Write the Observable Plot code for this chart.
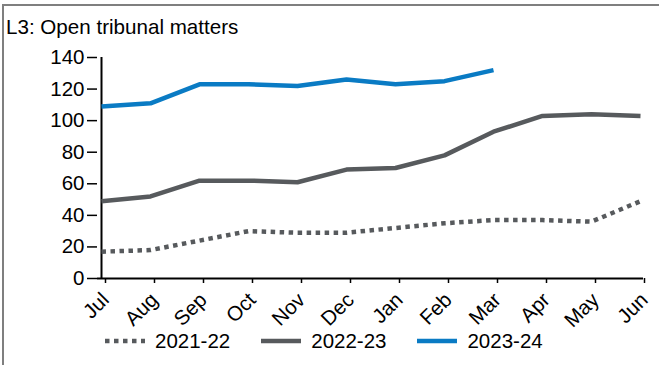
<!DOCTYPE html>
<html>
<head>
<meta charset="utf-8">
<script src="https://cdn.jsdelivr.net/npm/d3@7"></script>
<script src="https://cdn.jsdelivr.net/npm/@observablehq/plot@0.6"></script>
<style>
  html, body { margin: 0; padding: 0; background: #fff; }
  body { width: 659px; height: 365px; overflow: hidden; font-family: "Liberation Sans", Arial, sans-serif; }
  #wrap { position: relative; width: 659px; height: 365px; }
  #frame { position: absolute; left: 2px; top: 4px; width: 700px; height: 400px; border-top: 2px solid #7f7f7f; border-left: 2px solid #7f7f7f; }
  #title { position: absolute; left: 6px; top: 17px; font-size: 20.6px; line-height: 20px; color: #000; white-space: nowrap; }
  #chart { position: absolute; left: 0; top: 0; }
  #legend { position: absolute; left: 105px; top: 331px; display: flex; align-items: center; font-size: 20.5px; line-height: 20px; color: #000; }
  .item { display: flex; align-items: center; margin-right: 31px; }
  .item svg { margin-right: 10px; }
</style>
</head>
<body>
<div id="wrap">
  <div id="frame"></div>
  <div id="chart"></div>
  <div id="title">L3: Open tribunal matters</div>
  <div id="legend"></div>
</div>
<script>
const months = ["Jul","Aug","Sep","Oct","Nov","Dec","Jan","Feb","Mar","Apr","May","Jun"];
const seriesNames = ["2021-22","2022-23","2023-24"];
const v2122 = [17, 18, 24, 30, 29, 29, 32, 35, 37, 37, 36, 49];
const v2223 = [49, 52, 62, 62, 61, 69, 70, 78, 93, 103, 104, 103];
const v2324 = [109, 111, 123, 123, 122, 126, 123, 125, 132];
const yTicks = [0, 20, 40, 60, 80, 100, 120, 140];
const colors = ["#575a5d", "#575a5d", "#0a7bc4"];
const dashes = ["4.5,4.5", null, null];

const seriesValues = [v2122, v2223, v2324];
const rows = [];
seriesValues.forEach((vals, si) => {
  vals.forEach((v, i) => rows.push({series: seriesNames[si], month: months[i], value: v}));
});

const H = 330;
const lineMarks = seriesNames.map((name, si) =>
  Plot.line(rows.filter(d => d.series === name), {
    x: "month", y: "value",
    stroke: colors[si], strokeWidth: 4.5,
    strokeDasharray: dashes[si] || undefined,
    strokeLinecap: "butt", strokeLinejoin: "round"
  })
);

const chart = Plot.plot({
  width: 659,
  height: H,
  marginLeft: 97,
  marginRight: 16,
  marginTop: 57,
  marginBottom: H - 278,
  style: { fontFamily: '"Liberation Sans", Arial, sans-serif', fontSize: "20.5px", color: "#000", background: "transparent", overflow: "visible" },
  x: { type: "point", domain: months, padding: 0 },
  y: { domain: [0, 140] },
  marks: [
    Plot.axisY({ ticks: yTicks, tickSize: 10, tickPadding: 3, label: null, strokeWidth: 1.5, tickFormat: d => String(d) }),
    Plot.axisX({ tickSize: 5, tickRotate: -45, tickPadding: 13, dx: 4, label: null, strokeWidth: 1.5 }),
    Plot.ruleY([0], { stroke: "#000", strokeWidth: 2.2 }),
    Plot.ruleX([months[0]], { stroke: "#000", strokeWidth: 2 }),
    ...lineMarks
  ]
});
document.getElementById("chart").appendChild(chart);

// legend
const legend = document.getElementById("legend");
seriesNames.forEach((name, si) => {
  const item = document.createElement("div");
  item.className = "item";
  const ns = "http://www.w3.org/2000/svg";
  const svg = document.createElementNS(ns, "svg");
  svg.setAttribute("width", "40");
  svg.setAttribute("height", "10");
  const ln = document.createElementNS(ns, "line");
  ln.setAttribute("x1", "0"); ln.setAttribute("x2", "40");
  ln.setAttribute("y1", "5"); ln.setAttribute("y2", "5");
  ln.setAttribute("stroke", colors[si]);
  ln.setAttribute("stroke-width", "4.5");
  if (dashes[si]) ln.setAttribute("stroke-dasharray", dashes[si]);
  svg.appendChild(ln);
  const txt = document.createElement("span");
  txt.textContent = name;
  item.appendChild(svg);
  item.appendChild(txt);
  legend.appendChild(item);
});
</script>
</body>
</html>
